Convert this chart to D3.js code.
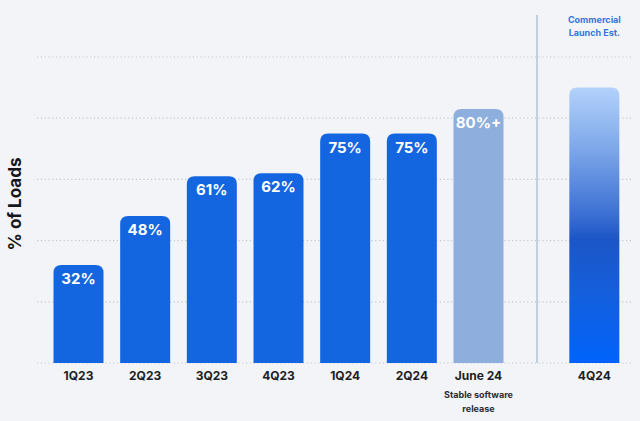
<!DOCTYPE html>
<html>
<head>
<meta charset="utf-8">
<script src="https://cdn.jsdelivr.net/npm/d3@7/dist/d3.min.js"></script>
<style>
  html, body { margin: 0; padding: 0; background: #f2f4f8; }
  svg { display: block; font-family: Inter, "Noto Sans", sans-serif; }
</style>
</head>
<body>
<svg id="chart" width="640" height="421"></svg>
<script>
// ---- data ----
const mainCategories = ["1Q23", "2Q23", "3Q23", "4Q23", "1Q24", "2Q24", "June 24"];
const mainValues = [32, 48, 61, 62, 75, 75, 83];
const mainLabels = ["32%", "48%", "61%", "62%", "75%", "75%", "80%+"];
const launchCategories = ["4Q24"];
const launchValues = [90];
const yTicks = [0, 20, 40, 60, 80, 100];
const yTitle = "% of Loads";
const releaseNote = ["Stable software", "release"];
const launchNote = ["Commercial", "Launch Est."];

// ---- layout ----
const W = 640, H = 421;
const left = 37, right = 633, baseY = 363, topY = 57, dividerX = 537;
const svg = d3.select("#chart");

svg.append("rect").attr("width", W).attr("height", H).attr("fill", "#f2f4f8");

const y = d3.scaleLinear().domain([0, 100]).range([baseY, topY]);
const xMain = d3.scaleBand().domain(mainCategories).range([left, dividerX])
  .paddingInner(0.25).paddingOuter(0.375).align(0.33);
const xLaunch = d3.scaleBand().domain(launchCategories).range([dividerX, W])
  .paddingInner(0).paddingOuter(0.53).align(0.61);

// gridlines
svg.append("g").selectAll("line").data(yTicks).join("line")
  .attr("x1", left).attr("x2", right)
  .attr("y1", d => y(d)).attr("y2", d => y(d))
  .attr("stroke", "#c3c8d1").attr("stroke-width", 1.2)
  .attr("stroke-dasharray", "1.2,2.6");

// divider
svg.append("line")
  .attr("x1", dividerX).attr("x2", dividerX)
  .attr("y1", 15).attr("y2", baseY)
  .attr("stroke", "#b6c2d6").attr("stroke-width", 1.5);

// gradient
const defs = svg.append("defs");
const grad = defs.append("linearGradient").attr("id", "launchGrad")
  .attr("x1", 0).attr("x2", 0).attr("y1", 0).attr("y2", 1);
[[0, "#b3d2fb"], [0.22, "#7ea8ea"], [0.45, "#3f72d4"], [0.55, "#1c56c6"], [0.75, "#145fdd"], [1, "#0063fb"]]
  .forEach(([o, c]) => grad.append("stop").attr("offset", o).attr("stop-color", c));

function topRounded(x0, w, yTop, yBot, r) {
  return `M${x0},${yBot} L${x0},${yTop + r} Q${x0},${yTop} ${x0 + r},${yTop} ` +
    `L${x0 + w - r},${yTop} Q${x0 + w},${yTop} ${x0 + w},${yTop + r} L${x0 + w},${yBot} Z`;
}

const mainData = mainCategories.map((c, i) => ({ c, v: mainValues[i], l: mainLabels[i], i }));
const lastIdx = mainCategories.length - 1;

svg.append("g").selectAll("path").data(mainData).join("path")
  .attr("d", d => topRounded(xMain(d.c), xMain.bandwidth(), y(d.v), y(0), 8))
  .attr("fill", d => d.i === lastIdx ? "#8eaedd" : "#1466e0");

svg.append("g").selectAll("text").data(mainData).join("text")
  .attr("x", d => xMain(d.c) + xMain.bandwidth() / 2)
  .attr("y", d => y(d.v) + 19)
  .attr("text-anchor", "middle")
  .attr("fill", "#ffffff").attr("font-size", 15).attr("font-weight", 700)
  .text(d => d.l);

const launchData = launchCategories.map((c, i) => ({ c, v: launchValues[i] }));
svg.append("g").selectAll("path").data(launchData).join("path")
  .attr("d", d => topRounded(xLaunch(d.c), xLaunch.bandwidth(), y(d.v), y(0), 8))
  .attr("fill", "url(#launchGrad)");

// category labels
svg.append("g").selectAll("text").data(mainCategories).join("text")
  .attr("x", d => xMain(d) + xMain.bandwidth() / 2).attr("y", 380)
  .attr("text-anchor", "middle").attr("fill", "#1d1f24")
  .attr("font-size", 12).attr("font-weight", 700).text(d => d);
svg.append("g").selectAll("text").data(launchCategories).join("text")
  .attr("x", d => xLaunch(d) + xLaunch.bandwidth() / 2).attr("y", 380)
  .attr("text-anchor", "middle").attr("fill", "#1d1f24")
  .attr("font-size", 12).attr("font-weight", 700).text(d => d);

// release note
const relX = xMain(mainCategories[lastIdx]) + xMain.bandwidth() / 2;
svg.append("g").selectAll("text").data(releaseNote).join("text")
  .attr("x", relX).attr("y", (d, i) => 398 + i * 14)
  .attr("text-anchor", "middle").attr("fill", "#2b2e36")
  .attr("font-size", 9).attr("font-weight", 700).text(d => d);

// launch note
const lnX = xLaunch(launchCategories[0]) + xLaunch.bandwidth() / 2;
svg.append("g").selectAll("text").data(launchNote).join("text")
  .attr("x", lnX).attr("y", (d, i) => 23 + i * 13)
  .attr("text-anchor", "middle").attr("fill", "#3574e0")
  .attr("font-size", 9).attr("font-weight", 700).text(d => d);

// y title
svg.append("text")
  .attr("transform", "translate(21,204) rotate(-90)")
  .attr("text-anchor", "middle").attr("fill", "#15171c")
  .attr("font-size", 17).attr("font-weight", 700).text(yTitle);
</script>
</body>
</html>
